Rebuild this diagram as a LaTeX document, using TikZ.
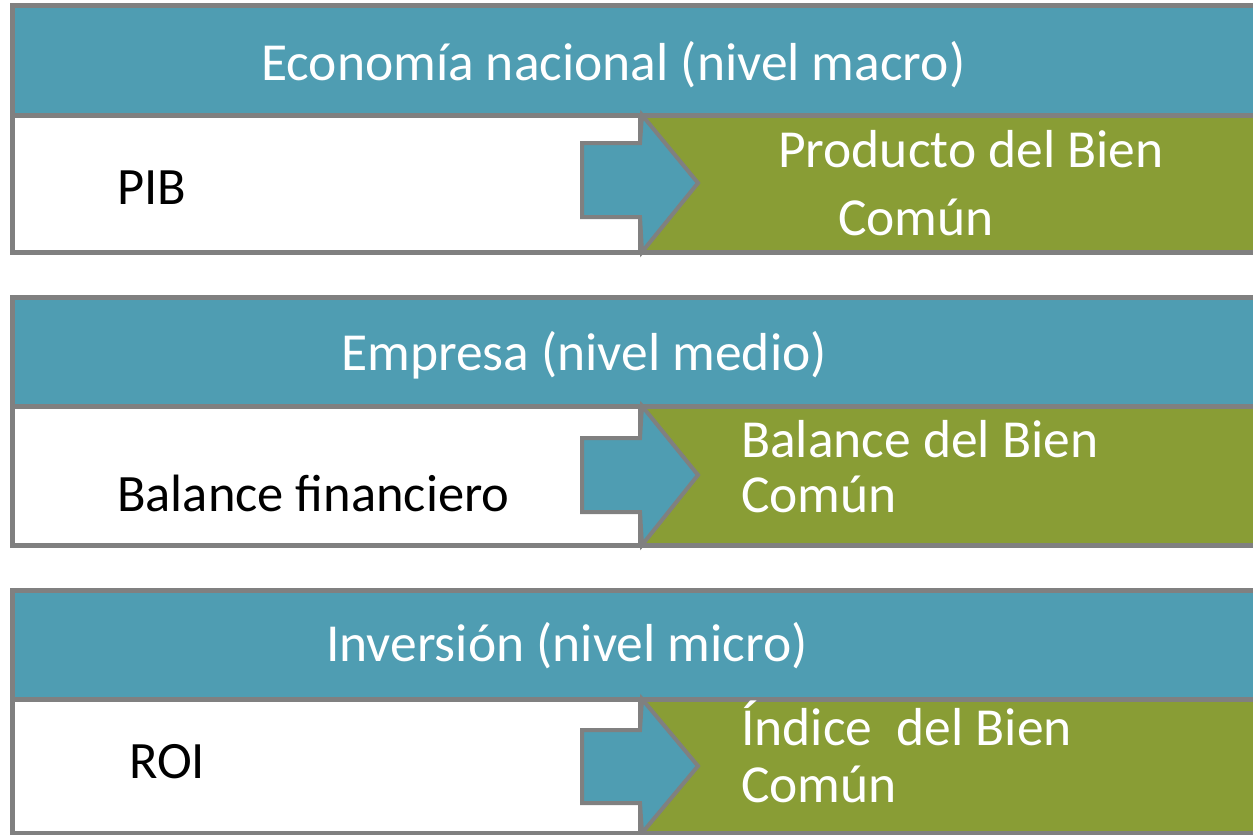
\documentclass[tikz,border=0pt]{standalone}
\usepackage{fontspec}
\setmainfont{Carlito}
\definecolor{hdrteal}{RGB}{79,157,178}
\definecolor{bcgreen}{RGB}{137,157,53}
\definecolor{bordergray}{RGB}{128,128,128}
\begin{document}
\begin{tikzpicture}[x=1pt,y=-1pt,
  frame/.style={draw=bordergray, line width=5pt, line join=miter},
  hdr/.style={frame, fill=hdrteal},
  leftbox/.style={frame, fill=white},
  rightbox/.style={frame, fill=bcgreen},
  arrowshape/.style={frame, fill=hdrteal, line width=4pt},
  txt/.style={anchor=base west, inner sep=0pt, font=\fontsize{53.5}{62}\selectfont},
  wtxt/.style={txt, text=white},
  btxt/.style={txt, text=black, font=\fontsize{52.5}{62}\selectfont}]
\useasboundingbox (0,0) rectangle (1253,835);
\clip (0,0) rectangle (1253,835);
% ---------- block 1 ----------
\path[hdr] (12,5) rectangle (1275,115);
\path[leftbox] (12,115) rectangle (640,252);
\path[rightbox] (640,115) rectangle (1275,252);
\path[arrowshape] (582,143) -- (640,143) -- (642,115) -- (698,183) -- (642,252) -- (640,217) -- (582,217) -- cycle;
\node[wtxt] (h1) at (261,80) {Economía nacional (nivel macro)};
\node[btxt] (l1) at (117,204) {PIB};
\node[wtxt] (r1a) at (778,167) {Producto del Bien};
\node[wtxt] (r1b) at (838,235) {Común};
% ---------- block 2 ----------
\path[hdr] (12,297) rectangle (1275,406);
\path[leftbox] (12,406) rectangle (640,545);
\path[rightbox] (640,406) rectangle (1275,545);
\path[arrowshape] (582,438) -- (640,438) -- (642,406) -- (698,475) -- (642,545) -- (640,512) -- (582,512) -- cycle;
\node[wtxt] (h2) at (341,370) {Empresa (nivel medio)};
\node[btxt] (l2) at (117,511) {Balance financiero};
\node[wtxt] (r2a) at (741,457) {Balance del Bien};
\node[wtxt] (r2b) at (741,512) {Común};
% ---------- block 3 ----------
\path[hdr] (12,590) rectangle (1275,699);
\path[leftbox] (12,699) rectangle (640,833);
\path[rightbox] (640,699) rectangle (1275,833);
\path[arrowshape] (582,730) -- (640,730) -- (642,699) -- (698,766) -- (642,833) -- (640,803) -- (582,803) -- cycle;
\node[wtxt] (h3) at (326,661) {Inversión (nivel micro)};
\node[btxt] (l3) at (129,778) {ROI};
\node[wtxt] (r3a) at (741,745) {Índice\ \ del Bien};
\node[wtxt] (r3b) at (741,802) {Común};
\end{tikzpicture}
\end{document}
